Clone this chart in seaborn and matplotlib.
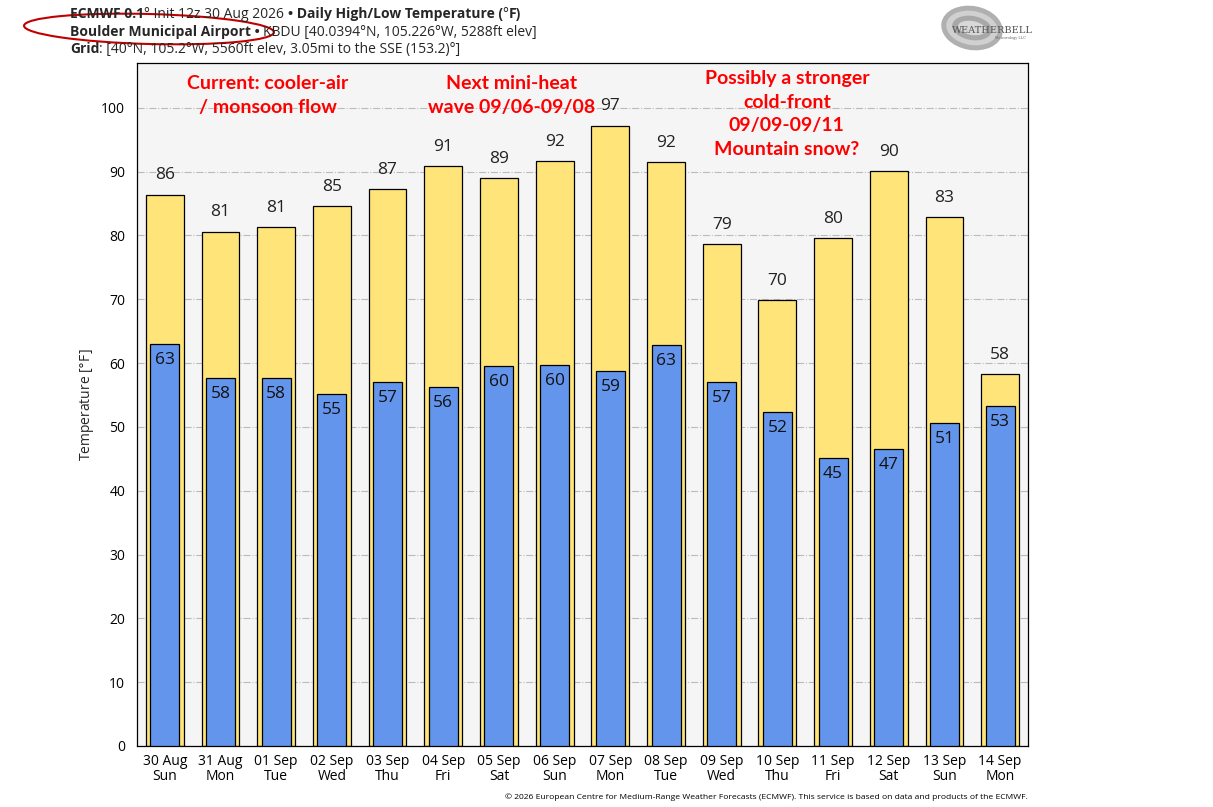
import matplotlib
matplotlib.use("Agg")
import matplotlib.pyplot as plt
import seaborn as sns
from matplotlib.patches import Ellipse

# данные с графика
days = ["30 Aug\nSun", "31 Aug\nMon", "01 Sep\nTue", "02 Sep\nWed", "03 Sep\nThu", "04 Sep\nFri",
        "05 Sep\nSat", "06 Sep\nSun", "07 Sep\nMon", "08 Sep\nTue", "09 Sep\nWed", "10 Sep\nThu",
        "11 Sep\nFri", "12 Sep\nSat", "13 Sep\nSun", "14 Sep\nMon"]
highs = [86.4, 80.6, 81.3, 84.6, 87.3, 90.9, 89.0, 91.7, 97.2, 91.5, 78.6, 69.9, 79.6, 90.1, 82.9, 58.3]
lows = [63.0, 57.7, 57.7, 55.2, 57.1, 56.3, 59.6, 59.7, 58.8, 62.9, 57.1, 52.4, 45.1, 46.6, 50.6, 53.3]

notes = ["Current: cooler-air\n/ monsoon flow",
         "Next mini-heat\nwave 09/06-09/08",
         "Possibly a stronger\ncold-front\n09/09-09/11\nMountain snow?"]
note_pos = [(1.85, 105.1), (6.23, 105.1), (11.17, 105.9)]

sns.set_style("white")
plt.rcParams['font.family'] = ['Open Sans', 'DejaVu Sans']

fig = plt.figure(figsize=(12.13, 8.07), dpi=100)
ax = fig.add_axes([0.1129, 0.0756, 0.7346, 0.8463])
ax.set_facecolor("#f5f5f5")

sns.barplot(x=days, y=highs, color="#ffe47a", saturation=1, width=0.68,
            edgecolor="black", linewidth=0.9, ax=ax, zorder=2)
sns.barplot(x=days, y=lows, color="#6495ed", saturation=1, width=0.52,
            edgecolor="black", linewidth=0.9, ax=ax, zorder=3)

for i, (h, l) in enumerate(zip(highs, lows)):
    ax.annotate(f"{round(h)}", (i, h), xytext=(0, 8), textcoords="offset points",
                ha="center", va="bottom", fontsize=12.5, color="#222222")
    ax.annotate(f"{round(l)}", (i, l), xytext=(0, -6), textcoords="offset points",
                ha="center", va="top", fontsize=12.5, color="#111111", zorder=5)

for txt, (x, y) in zip(notes, note_pos):
    ax.text(x, y, txt, ha="center", va="top", color="red", fontsize=14,
            fontweight="bold", family=["Lato", "DejaVu Sans"], linespacing=1.48, zorder=6)

ax.set_ylim(0, 107)
ax.set_xlim(-0.5, len(days) - 0.5)
ax.set_yticks(range(0, 101, 10))
ax.yaxis.grid(True, linestyle="-.", color="#bbbbbb", linewidth=0.8, zorder=0)
ax.set_axisbelow(True)
ax.tick_params(axis="both", labelsize=10, length=5, width=0.8, colors="black", direction="out")
ax.tick_params(axis="x", length=4, pad=2)
for t in ax.get_xticklabels():
    t.set_linespacing(1.0)
ax.set_ylabel("Temperature [$\\degree$F]", fontsize=10)
ax.set_xlabel("")
for s in ax.spines.values():
    s.set_color("black")
    s.set_linewidth(0.9)

# заголовок из кусков: жирный / обычный
fig.canvas.draw()
rend = fig.canvas.get_renderer()


def line(y, parts):
    x = 70 / 1213
    for txt, bold in parts:
        t = fig.text(x, y, txt, fontsize=10, fontweight="bold" if bold else "normal",
                     va="baseline", ha="left")
        bb = t.get_window_extent(renderer=rend)
        x += bb.width / fig.bbox.width


line(1 - 18 / 807, [("ECMWF 0.1", True), ("° Init 12z 30 Aug 2026 ", False),
                    ("• Daily High/Low Temperature (", True), ("°", False), ("F)", True)])
line(1 - 36 / 807, [("Boulder Municipal Airport • ", True),
                    ("KBDU [40.0394°N, 105.226°W, 5288ft elev]", False)])
line(1 - 53 / 807, [("Grid", True), (": [40°N, 105.2°W, 5560ft elev, 3.05mi to the SSE (153.2)°]", False)])

# красный овал
ell = Ellipse((149, 807 - 29), 250, 30, angle=-1.5, transform=None, fill=False,
              edgecolor="#c00000", linewidth=1.5)
fig.patches.append(ell)

# логотип
for w, h, c in [(62, 44, "#b0b0b0"), (52, 34, "#d0d0d0"), (40, 24, "#a8a8a8"), (28, 14, "#d8d8d8")]:
    fig.patches.append(Ellipse((972, 807 - 28), w, h, angle=-10, transform=None,
                               facecolor=c, edgecolor="none"))
fig.text(992 / 1213, 1 - 33 / 807, "WEATHERBELL", fontsize=7, family="DejaVu Serif",
         color="#555555", ha="center", va="baseline")
fig.text(1010 / 1213, 1 - 39 / 807, "Meteorology LLC", fontsize=2.5, family="DejaVu Serif",
         color="#666666", ha="center", va="baseline")

fig.text(1028 / 1213, 1 - 799 / 807,
         "© 2026 European Centre for Medium-Range Weather Forecasts (ECMWF). This service is based on data and products of the ECMWF.",
         fontsize=6.1, ha="right", va="baseline", color="black")

plt.savefig("out.png", dpi=100)
